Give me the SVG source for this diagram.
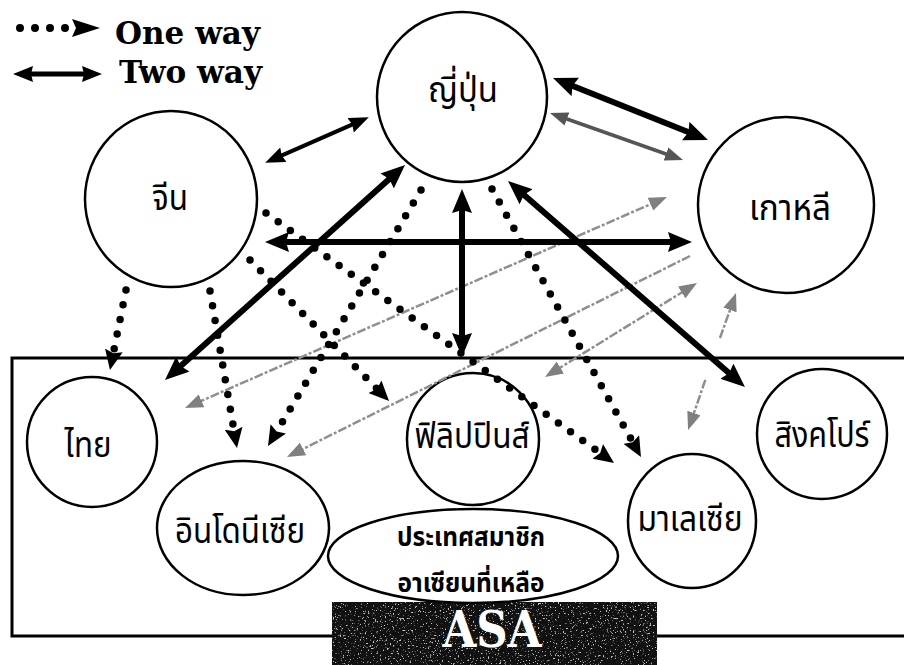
<svg xmlns="http://www.w3.org/2000/svg" width="904" height="665" viewBox="0 0 904 665">
<style>
.node{fill:#fff;stroke:#000;stroke-width:2.5}
.lbl{font-family:"Noto Sans Thai","Noto Sans","DejaVu Sans",sans-serif;font-size:36px;fill:#000;text-anchor:middle}
.lbl2{font-family:"Noto Sans Thai","Noto Sans","DejaVu Sans",sans-serif;font-size:26px;font-weight:bold;fill:#000;text-anchor:middle}
.leg{font-family:"DejaVu Serif","Liberation Serif",serif;font-weight:bold;font-size:32px;fill:#000}
.two{stroke:#000;fill:none;marker-start:url(#hb);marker-end:url(#hb)}
.dot{stroke:#000;fill:none;stroke-width:7.5;stroke-linecap:round;stroke-dasharray:0 15;marker-end:url(#hd)}
.gray{stroke:#8f8f8f;fill:none;stroke-width:2.5;stroke-dasharray:9 2 3 2}
</style>
<defs>
<marker id="hb" markerUnits="userSpaceOnUse" markerWidth="24" markerHeight="20" refX="10" refY="10" orient="auto-start-reverse"><path d="M0,0 L24,10 L0,20 L3,10 z" fill="#000"/></marker>
<marker id="hm" markerUnits="userSpaceOnUse" markerWidth="20" markerHeight="16" refX="6" refY="8" orient="auto-start-reverse"><path d="M0,0 L20,8 L0,16 L2,8 z" fill="#000"/></marker>
<marker id="hg" markerUnits="userSpaceOnUse" markerWidth="18" markerHeight="14" refX="6" refY="7" orient="auto-start-reverse"><path d="M0,0 L18,7 L0,14 z" fill="#808080"/></marker>
<marker id="hg2" markerUnits="userSpaceOnUse" markerWidth="18" markerHeight="14" refX="6" refY="7" orient="auto-start-reverse"><path d="M0,0 L18,7 L0,14 z" fill="#555"/></marker>
<marker id="hd" markerUnits="userSpaceOnUse" markerWidth="20" markerHeight="18" refX="4" refY="9" orient="auto-start-reverse"><path d="M0,0 L20,9 L0,18 L3,9 z" fill="#000"/></marker>
<marker id="hl" markerUnits="userSpaceOnUse" markerWidth="28" markerHeight="18" refX="4" refY="9" orient="auto"><path d="M0,0 L28,9 L0,18 L4,9 z" fill="#000"/></marker>
<filter id="speck" x="0" y="0" width="100%" height="100%">
<feTurbulence type="fractalNoise" baseFrequency="0.6" numOctaves="3" seed="7" result="n"/>
<feColorMatrix in="n" type="matrix" values="0 0 0 0 0.55  0 0 0 0 0.55  0 0 0 0 0.55  9 0 0 0 -5.6"/>
</filter>
</defs>
<rect width="904" height="665" fill="#fff"/>

<g id="legend">
<path d="M20,28 L76,28" stroke="#000" stroke-width="8" stroke-linecap="round" stroke-dasharray="0 15" fill="none" marker-end="url(#hl)"/>
<text class="leg" x="115" y="44" textLength="145" lengthAdjust="spacingAndGlyphs">One way</text>
<path d="M27,74 L88,74" stroke="#000" stroke-width="5" marker-start="url(#hm)" marker-end="url(#hm)"/>
<text class="leg" x="119" y="83" textLength="143" lengthAdjust="spacingAndGlyphs">Two way</text>
</g>

<g id="asean-frame">
<rect x="12" y="358" width="900" height="278" fill="none" stroke="#000" stroke-width="3"/>
</g>

<g id="asa">
<rect x="332" y="602" width="325" height="70" fill="#111"/>
<rect x="332" y="602" width="325" height="70" fill="#fff" filter="url(#speck)"/>
<text x="492" y="647" font-family="DejaVu Serif, Liberation Serif, serif" font-weight="bold" font-size="50" fill="#fff" text-anchor="middle" textLength="99" lengthAdjust="spacingAndGlyphs">ASA</text>
</g>

<g id="japan"><circle class="node" cx="462" cy="97" r="85"/><text class="lbl" x="463" y="102" textLength="70" lengthAdjust="spacingAndGlyphs">ญี่ปุ่น</text></g>
<g id="china"><ellipse class="node" cx="171" cy="199" rx="86" ry="88"/><text class="lbl" x="170" y="210" textLength="36" lengthAdjust="spacingAndGlyphs">จีน</text></g>
<g id="korea"><circle class="node" cx="786" cy="205" r="88"/><text class="lbl" x="790" y="220" textLength="82" lengthAdjust="spacingAndGlyphs">เกาหลี</text></g>
<g id="thailand"><circle class="node" cx="92" cy="442" r="65"/><text class="lbl" x="88" y="457" textLength="47" lengthAdjust="spacingAndGlyphs">ไทย</text></g>
<g id="indonesia"><ellipse class="node" cx="243" cy="528" rx="86" ry="67"/><text class="lbl" x="240" y="543" textLength="130" lengthAdjust="spacingAndGlyphs">อินโดนีเซีย</text></g>
<g id="philippines"><circle class="node" cx="473" cy="439" r="66"/><text class="lbl" x="472" y="448" textLength="115" lengthAdjust="spacingAndGlyphs">ฟิลิปปินส์</text></g>
<g id="singapore"><circle class="node" cx="822" cy="434" r="65"/><text class="lbl" x="822" y="447" textLength="95" lengthAdjust="spacingAndGlyphs">สิงคโปร์</text></g>
<g id="malaysia"><ellipse class="node" cx="692" cy="521" rx="64" ry="67"/><text class="lbl" x="690" y="531" textLength="105" lengthAdjust="spacingAndGlyphs">มาเลเซีย</text></g>
<g id="other-asean"><ellipse class="node" cx="473" cy="556" rx="145" ry="47"/><text class="lbl2" x="471" y="546" textLength="148" lengthAdjust="spacingAndGlyphs">ประเทศสมาชิก</text><text class="lbl2" x="471" y="592" textLength="147" lengthAdjust="spacingAndGlyphs">อาเซียนที่เหลือ</text></g>

<g id="connectors">
<path class="gray" d="M196,403.2 L656,201.8" marker-start="url(#hg)" marker-end="url(#hg)"/>
<path class="gray" d="M690,256 L297.7,451.6" marker-end="url(#hg)"/>
<path class="gray" d="M555.2,370.7 L686.8,289.3" marker-start="url(#hg)" marker-end="url(#hg)"/>
<path class="gray" d="M692,418.7 L706,378 M720,338 L732,304.3" marker-start="url(#hg)" marker-end="url(#hg)"/>
<path d="M561.3,117 L671.7,156" stroke="#555" stroke-width="3.5" fill="none" marker-start="url(#hg2)" marker-end="url(#hg2)"/>
<path d="M278,157.2 L356,122.8" stroke="#000" stroke-width="4" fill="none" marker-start="url(#hm)" marker-end="url(#hm)"/>
<path class="two" stroke-width="6" d="M566,83.2 L695,134.8"/>
<path class="two" stroke-width="6" d="M279,242 L678,242"/>
<path class="two" stroke-width="6" d="M394.6,174.3 L175.4,370.7"/>
<path class="two" stroke-width="6" d="M462,203 L462,343"/>
<path class="two" stroke-width="6" d="M518.6,190.2 L734.4,377.8"/>
<path class="dot" d="M126,290 L113.1,354.3"/>
<path class="dot" d="M210,291 L234.3,432.2"/>
<path class="dot" d="M250,260 L377.8,389.6"/>
<path class="dot" d="M266,213 L601,453.7"/>
<path class="dot" d="M421,190 L276.2,432.3"/>
<path class="dot" d="M492,189 L633.2,443"/>
</g>
</svg>
